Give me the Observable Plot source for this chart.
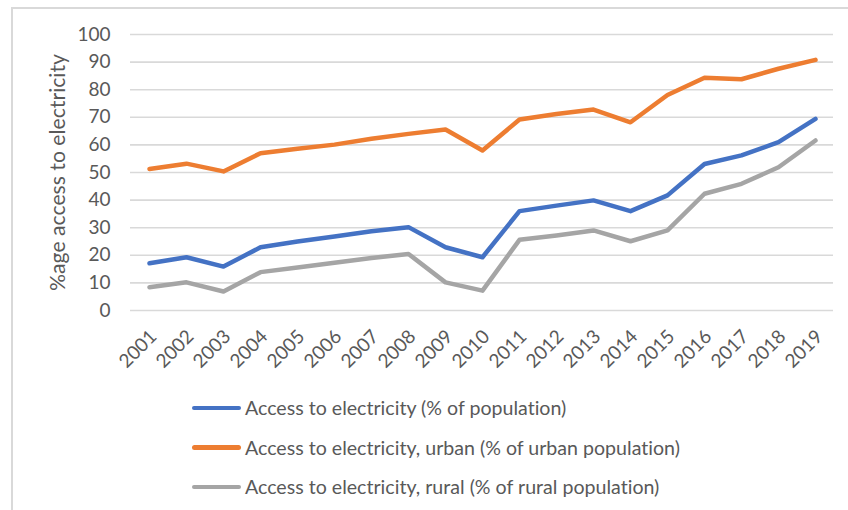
<!DOCTYPE html>
<html>
<head>
<meta charset="utf-8">
<script src="https://cdn.jsdelivr.net/npm/d3@7"></script>
<script src="https://cdn.jsdelivr.net/npm/@observablehq/plot@0.6"></script>
<style>
  html, body { margin: 0; padding: 0; background: #fff; }
  #wrap { position: relative; width: 848px; height: 510px; overflow: hidden; font-family: Lato, "Open Sans", sans-serif; font-variant-ligatures: none; }
  #frame { position: absolute; left: 11px; top: 7px; width: 900px; height: 600px; border: 2px solid #d9d9d9; box-sizing: border-box; }
  #chart { position: absolute; left: 0; top: 0; }
  #chart svg { font-variant-ligatures: none; }
  #legend { position: absolute; left: 192px; top: 388px; color: #595959; font-size: 19.6px; }
  .item { display: flex; align-items: center; height: 39.5px; }
  .swatch { width: 49px; height: 4.5px; border-radius: 2.5px; margin-right: 4px; }
</style>
</head>
<body>
<div id="wrap">
  <div id="frame"></div>
  <div id="chart"></div>
  <div id="legend"></div>
</div>
<script>
const years = ["2001","2002","2003","2004","2005","2006","2007","2008","2009","2010",
               "2011","2012","2013","2014","2015","2016","2017","2018","2019"];
const total = [17.1, 19.3, 15.9, 22.9, 25.0, 26.8, 28.7, 30.2, 22.9, 19.3,
               36.0, 38.0, 39.9, 36.0, 41.7, 53.1, 56.2, 61.0, 69.4];
const urban = [51.3, 53.2, 50.4, 57.0, 58.6, 60.1, 62.2, 64.0, 65.6, 58.0,
               69.2, 71.2, 72.8, 68.2, 78.1, 84.3, 83.8, 87.6, 90.8];
const rural = [8.4, 10.2, 6.9, 13.9, 15.6, 17.3, 19.0, 20.5, 10.2, 7.2,
               25.6, 27.2, 29.0, 25.1, 29.0, 42.3, 45.9, 51.9, 61.6];
const seriesNames = [
  "Access to electricity (% of population)",
  "Access to electricity, urban (% of urban population)",
  "Access to electricity, rural (% of rural population)"
];
const seriesColors = ["#4472c4", "#ed7d31", "#a5a5a5"];
const yTicks = [0, 10, 20, 30, 40, 50, 60, 70, 80, 90, 100];
const yLabel = "%age access to electricity";

const seriesValues = [total, urban, rural];
const rows = seriesValues.flatMap((vals, s) =>
  years.map((year, i) => ({year, value: vals[i], series: seriesNames[s]})));

const chart = Plot.plot({
  width: 848,
  height: 380,
  marginLeft: 130,
  marginRight: 15,
  marginTop: 34,
  marginBottom: 70,
  style: {fontFamily: "Lato, 'Open Sans', sans-serif", fontSize: "19px", color: "#595959", background: "transparent"},
  x: {type: "point", domain: years, padding: 0.5},
  y: {domain: [0, 100]},
  color: {domain: seriesNames, range: seriesColors},
  marks: [
    Plot.gridY(yTicks, {stroke: "#d9d9d9", strokeOpacity: 1, strokeWidth: 1.6}),
    Plot.axisY(yTicks, {tickSize: 0, tickPadding: 20, label: null, fill: "#595959"}),
    Plot.axisX({tickSize: 0, tickRotate: -45, tickPadding: 23, dx: 4, label: null, fill: "#595959"}),
    Plot.text([yLabel], {frameAnchor: "left", dx: -72, rotate: -90, textAnchor: "middle",
      fill: "#595959", fontSize: 21.2}),
    Plot.line(rows, {x: "year", y: "value", z: "series", stroke: "series",
      strokeWidth: 4.5, strokeLinejoin: "round", strokeLinecap: "round"})
  ]
});
document.getElementById("chart").appendChild(chart);

const legend = document.getElementById("legend");
seriesNames.forEach((name, i) => {
  const item = document.createElement("div");
  item.className = "item";
  const sw = document.createElement("span");
  sw.className = "swatch";
  sw.style.background = seriesColors[i];
  const label = document.createElement("span");
  label.textContent = name;
  item.appendChild(sw);
  item.appendChild(label);
  legend.appendChild(item);
});
</script>
</body>
</html>
